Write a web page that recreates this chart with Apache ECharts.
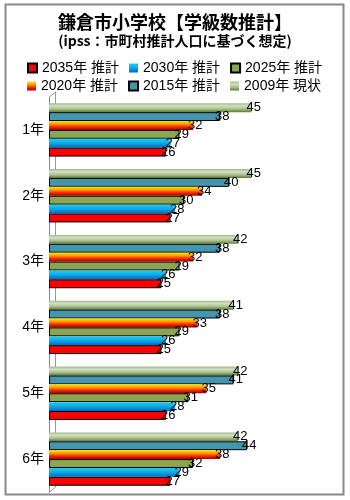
<!DOCTYPE html>
<html>
<head>
<meta charset="utf-8">
<script src="https://cdn.jsdelivr.net/npm/echarts@6/dist/echarts.min.js"></script>
<style>
html, body { margin: 0; padding: 0; background: #fff; }
#c { width: 350px; height: 500px; }
</style>
</head>
<body>
<div id="c"></div>
<script>
// Grades and projected class counts per year
const grades = ['1年', '2年', '3年', '4年', '5年', '6年'];
const y2009 = [45, 45, 42, 41, 42, 42];
const y2015 = [38, 40, 38, 38, 41, 44];
const y2020 = [32, 34, 32, 33, 35, 38];
const y2025 = [29, 30, 29, 29, 31, 32];
const y2030 = [27, 28, 26, 26, 28, 29];
const y2035 = [26, 27, 25, 25, 26, 27];
const seriesNames = ['2009年 現状', '2015年 推計', '2020年 推計', '2025年 推計', '2030年 推計', '2035年 推計'];

const FONT = '"Noto Sans CJK JP", "Noto Sans", sans-serif';
const MIXED = '"Liberation Sans", "Noto Sans CJK JP", sans-serif';

function vgrad(stops) {
  return {
    type: 'linear', x: 0, y: 0, x2: 0, y2: 1,
    colorStops: stops.map(s => ({ offset: s[0], color: s[1] }))
  };
}

const styles = [
  { color: vgrad([[0, '#9fb98a'], [0.3, '#d3e0c4'], [0.65, '#a9bf8c'], [1, '#5a7a35']]) },
  { color: '#4396ad', borderColor: '#000', borderWidth: 1 },
  { color: vgrad([[0, '#ffe800'], [0.35, '#ff9900'], [0.65, '#ff2a00'], [1, '#a00000']]) },
  { color: '#8ba552', borderColor: '#000', borderWidth: 1 },
  { color: vgrad([[0, '#22ccf2'], [0.5, '#0aa8e6'], [1, '#0068bf']]) },
  { color: '#ff0000', borderColor: '#000', borderWidth: 1 }
];
const dataSets = [y2009, y2015, y2020, y2025, y2030, y2035];

const series = dataSets.map((d, i) => ({
  name: seriesNames[i],
  type: 'bar',
  data: d,
  barGap: '0%',
  barCategoryGap: '19%',
  itemStyle: styles[i],
  label: {
    show: true,
    position: 'right',
    distance: -5,
    color: '#000',
    fontSize: 13,
    fontFamily: MIXED
  },
  animation: false
}));

const legendText = { color: '#000', fontSize: 14, fontFamily: MIXED, width: 80 };

const chart = echarts.init(document.getElementById('c'), null, { renderer: 'canvas' });
chart.setOption({
  backgroundColor: '#fff',
  animation: false,
  title: [
    {
      text: '鎌倉市小学校【学級数推計】',
      left: 'center', top: 8,
      textStyle: { fontSize: 18, fontWeight: 'bold', color: '#000', fontFamily: FONT }
    },
    {
      text: '(ipss：市町村推計人口に基づく想定)',
      left: 'center', top: 29,
      textStyle: { fontSize: 14, fontWeight: 'bold', color: '#000', fontFamily: FONT }
    }
  ],
  legend: [
    {
      data: ['2035年 推計', '2030年 推計', '2025年 推計'],
      left: 22, top: 56, itemWidth: 9, itemHeight: 9, itemGap: 10,
      icon: 'rect', textStyle: legendText
    },
    {
      data: ['2020年 推計', '2015年 推計', '2009年 現状'],
      left: 22, top: 74, itemWidth: 9, itemHeight: 9, itemGap: 10,
      icon: 'rect', textStyle: legendText
    }
  ],
  grid: { left: 49, top: 97, bottom: 8, width: 270, containLabel: false },
  xAxis: {
    type: 'value', min: 0, max: 60,
    show: false
  },
  yAxis: {
    type: 'category',
    data: grades,
    inverse: true,
    axisLine: { show: true, lineStyle: { color: '#888', width: 1 } },
    axisTick: { show: false },
    axisLabel: { color: '#000', fontSize: 14, fontFamily: MIXED, margin: 5 }
  },
  graphic: [
    {
      type: 'rect', silent: true,
      shape: { x: 5.5, y: 4.5, width: 338, height: 490 },
      style: { fill: 'none', stroke: '#888', lineWidth: 2 }
    },
    {
      type: 'polyline', silent: true, z: 0,
      shape: { points: [[49.5, 97], [55.5, 92], [55.5, 487], [49.5, 492]] },
      style: { fill: 'none', stroke: '#999', lineWidth: 1 }
    }
  ],
  series: series
});
</script>
</body>
</html>
